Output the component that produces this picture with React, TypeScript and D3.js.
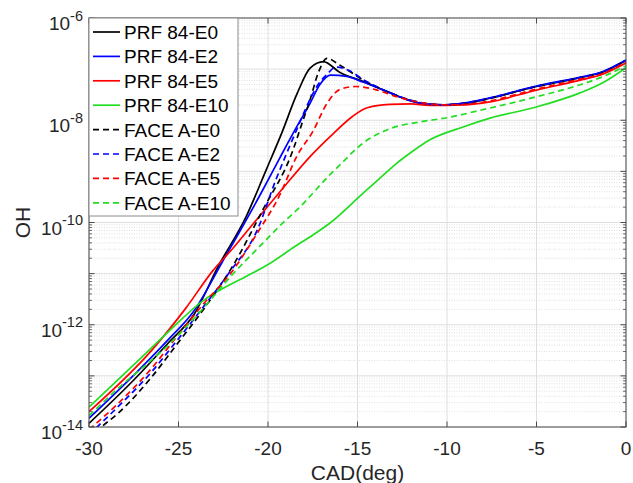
import React from "react";
import * as d3 from "d3";

type Pt = [number, number];

// x: CAD (deg), y: OH
const prfE0: Pt[] = [
  [-30, 1.18e-14], [-27.5, 8.3e-14], [-25.6, 4.3e-13], [-24.1, 1.66e-12], [-22.8, 1.35e-11],
  [-21.2, 1.35e-10], [-20.1, 1.07e-9], [-19.2, 6.0e-9], [-18.4, 3.16e-8], [-17.65, 1.05e-7],
  [-16.9, 1.4e-7], [-16.0, 8.7e-8], [-14.7, 5.75e-8], [-13.2, 3.47e-8], [-12.2, 2.51e-8],
  [-11.0, 2.04e-8], [-10.2, 2.0e-8], [-9.0, 2.14e-8], [-7.6, 2.69e-8], [-5.0, 4.57e-8],
  [-2.6, 6.76e-8], [-1.4, 8.5e-8], [0, 1.48e-7],
];
const prfE2: Pt[] = [
  [-30, 1.48e-14], [-27.4, 1.12e-13], [-25.6, 5.0e-13], [-24.1, 1.95e-12], [-22.6, 1.58e-11],
  [-20.3, 4.27e-10], [-19.3, 1.95e-9], [-18.4, 7.4e-9], [-17.65, 2.14e-8], [-17.1, 5.0e-8],
  [-16.5, 7.6e-8], [-15.6, 7.2e-8], [-14.7, 5.6e-8], [-13.2, 3.47e-8], [-12.2, 2.51e-8],
  [-11.0, 2.04e-8], [-10.2, 2.0e-8], [-9.0, 2.19e-8], [-7.6, 2.75e-8], [-5.0, 4.68e-8],
  [-2.6, 6.9e-8], [-1.4, 8.7e-8], [0, 1.51e-7],
];
const prfE5: Pt[] = [
  [-30, 2.0e-14], [-26.5, 3.16e-13], [-24.6, 2.09e-12], [-23.1, 1.12e-11], [-21.9, 3.31e-11],
  [-21.0, 8.0e-11], [-20.1, 1.9e-10], [-19.1, 5.0e-10], [-17.65, 1.95e-9], [-16.35, 5.5e-9],
  [-15.3, 1.17e-8], [-14.5, 1.74e-8], [-13.2, 2.04e-8], [-12.0, 2.09e-8], [-11.0, 1.95e-8],
  [-9.1, 2.0e-8], [-7.6, 2.29e-8], [-5.0, 3.89e-8], [-2.6, 6.03e-8], [-1.4, 7.76e-8], [0, 1.32e-7],
];
const prfE10: Pt[] = [
  [-30, 2.45e-14], [-27.4, 1.78e-13], [-25.6, 7.1e-13], [-23.6, 3.0e-12], [-22.4, 5.4e-12],
  [-21.2, 8.9e-12], [-19.9, 1.58e-11], [-18.5, 3.39e-11], [-17.3, 6.3e-11], [-16.5, 1.0e-10],
  [-14.7, 3.7e-10], [-13.7, 7.6e-10], [-12.8, 1.45e-9], [-11.9, 2.51e-9],
  [-11.0, 4.07e-9], [-9.1, 7.4e-9], [-7.6, 1.1e-8], [-5.0, 1.82e-8], [-2.6, 3.39e-8],
  [-1.3, 5.4e-8], [0, 1.07e-7],
];
const faceE0: Pt[] = [
  [-30, 5.6e-15], [-29.3, 1.0e-14], [-28.4, 1.82e-14], [-26.5, 9.5e-14], [-25.2, 3.7e-13],
  [-23.5, 2.24e-12], [-22.0, 1.35e-11], [-20.3, 1.74e-10], [-18.6, 2.63e-9], [-18.1, 8.7e-9],
  [-17.65, 2.51e-8], [-17.2, 8.3e-8], [-16.7, 1.62e-7], [-16.0, 1.2e-7], [-14.7, 6.2e-8],
  [-13.2, 3.47e-8], [-12.2, 2.57e-8], [-11.0, 2.09e-8], [-10.2, 2.0e-8], [-9.0, 2.14e-8],
  [-7.6, 2.69e-8], [-5.0, 4.57e-8], [-2.6, 6.76e-8], [-1.4, 8.5e-8], [0, 1.48e-7],
];
const faceE2: Pt[] = [
  [-30, 7.1e-15], [-28.4, 2.45e-14], [-26.5, 1.2e-13], [-25.2, 4.37e-13], [-23.5, 2.51e-12],
  [-22.1, 1.12e-11], [-20.6, 7.1e-11], [-19.6, 6.3e-10], [-18.4, 6.5e-9], [-17.85, 1.82e-8],
  [-17.2, 5.0e-8], [-16.7, 7.9e-8], [-16.2, 1.1e-7], [-15.5, 9.5e-8], [-14.7, 6.3e-8],
  [-13.2, 3.47e-8], [-12.2, 2.55e-8], [-11.0, 2.07e-8], [-10.2, 2.0e-8], [-9.0, 2.16e-8],
  [-7.6, 2.72e-8], [-5.0, 4.6e-8], [-2.6, 6.8e-8], [-1.4, 8.6e-8], [0, 1.5e-7],
];
const faceE5: Pt[] = [
  [-30, 8.9e-15], [-28.4, 2.82e-14], [-26.5, 1.41e-13], [-25.2, 5.25e-13], [-23.5, 2.82e-12],
  [-22.1, 1.0e-11], [-20.6, 6.2e-11], [-19.3, 3.7e-10], [-18.4, 1.95e-9], [-17.5, 6.0e-9],
  [-16.7, 2.14e-8], [-16.0, 3.98e-8], [-15.1, 4.57e-8], [-14.0, 3.98e-8], [-12.8, 2.88e-8],
  [-11.5, 2.24e-8], [-10.2, 2.0e-8], [-9.0, 2.04e-8], [-7.6, 2.4e-8], [-5.0, 4.07e-8],
  [-2.6, 6.3e-8], [-1.4, 7.9e-8], [0, 1.38e-7],
];
const faceE10: Pt[] = [
  [-30, 1.66e-14], [-28.4, 5.6e-14], [-25.7, 3.63e-13], [-23.7, 1.95e-12], [-22.1, 8.7e-12],
  [-20.3, 3.9e-11], [-19.0, 1.12e-10], [-18.4, 1.74e-10], [-16.5, 8.9e-10], [-16.0, 1.32e-9],
  [-14.7, 3.55e-9], [-13.2, 6.8e-9], [-11.5, 9.3e-9], [-10.0, 1.12e-8], [-8.2, 1.55e-8],
  [-5.0, 2.88e-8], [-2.6, 4.9e-8], [-1.3, 7.1e-8], [0, 1.17e-7],
];

const seriesNames = [
  "PRF 84-E0", "PRF 84-E2", "PRF 84-E5", "PRF 84-E10",
  "FACE A-E0", "FACE A-E2", "FACE A-E5", "FACE A-E10",
];
const seriesData = [prfE0, prfE2, prfE5, prfE10, faceE0, faceE2, faceE5, faceE10];
const seriesColors = ["#000000", "#0000ff", "#ff0000", "#22dd22", "#000000", "#0000ff", "#ff0000", "#22dd22"];
const seriesDashed = [false, false, false, false, true, true, true, true];

const xTicks = [-30, -25, -20, -15, -10, -5, 0];
const yExponents = [-14, -12, -10, -8, -6];

const W = 633, H = 483;
const M = { left: 89, right: 626, top: 18, bottom: 427 };
const FONT = "'Liberation Sans', Arial, Helvetica, sans-serif";

export default function App() {
  const x = d3.scaleLinear().domain([-30, 0]).range([M.left, M.right]);
  const y = d3.scaleLog().domain([1e-14, 1e-6]).range([M.bottom, M.top]);

  const line = d3
    .line<Pt>()
    .x((d) => x(d[0]))
    .y((d) => y(d[1]))
    .curve(d3.curveMonotoneX);

  const minorVals: number[] = [];
  for (let e = -14; e < -6; e++) {
    for (let k = 2; k <= 9; k++) minorVals.push(k * Math.pow(10, e));
  }
  const majorVals: number[] = [];
  for (let e = -14; e <= -6; e++) majorVals.push(Math.pow(10, e));

  const axisColor = "#4a4a4a";
  const textColor = "#262626";

  return (
    <svg
      width={W}
      height={H}
      style={{ position: "absolute", left: 0, top: 0, background: "#fff" }}
      fontFamily={FONT}
    >
      <defs>
        <clipPath id="plotclip">
          <rect x={M.left} y={M.top} width={M.right - M.left} height={M.bottom - M.top} />
        </clipPath>
      </defs>
      <rect x={0} y={0} width={W} height={H} fill="#fff" />

      {/* minor grid */}
      {minorVals.map((v, i) => (
        <line key={"mg" + i} x1={M.left} x2={M.right} y1={y(v)} y2={y(v)}
          stroke="#d8d8d8" strokeWidth={0.8} strokeDasharray="1,1.5" />
      ))}
      {/* major grid */}
      {majorVals.map((v, i) => (
        <line key={"yg" + i} x1={M.left} x2={M.right} y1={y(v)} y2={y(v)} stroke="#dedede" strokeWidth={1} />
      ))}
      {xTicks.map((t) => (
        <line key={"xg" + t} x1={x(t)} x2={x(t)} y1={M.top} y2={M.bottom} stroke="#dedede" strokeWidth={1} />
      ))}

      {/* data */}
      <g clipPath="url(#plotclip)">
        {seriesData.map((d, i) => (
          <path key={"s" + i} d={line(d) || ""} fill="none" stroke={seriesColors[i]}
            strokeWidth={1.7} strokeDasharray={seriesDashed[i] ? "6,4" : undefined} />
        ))}
      </g>

      {/* axes box */}
      <rect x={M.left} y={M.top} width={M.right - M.left} height={M.bottom - M.top}
        fill="none" stroke={axisColor} strokeWidth={1} />

      {/* x ticks */}
      {xTicks.map((t) => (
        <g key={"xt" + t}>
          <line x1={x(t)} x2={x(t)} y1={M.bottom} y2={M.bottom - 5.5} stroke={axisColor} />
          <line x1={x(t)} x2={x(t)} y1={M.top} y2={M.top + 5.5} stroke={axisColor} />
          <text x={x(t)} y={455} textAnchor="middle" fontSize={19} fill={textColor}>{t}</text>
        </g>
      ))}

      {/* y ticks */}
      {majorVals.map((v, i) => (
        <g key={"yt" + i}>
          <line x1={M.left} x2={M.left + 5.5} y1={y(v)} y2={y(v)} stroke={axisColor} />
          <line x1={M.right} x2={M.right - 5.5} y1={y(v)} y2={y(v)} stroke={axisColor} />
        </g>
      ))}
      {minorVals.map((v, i) => (
        <g key={"ymt" + i}>
          <line x1={M.left} x2={M.left + 3} y1={y(v)} y2={y(v)} stroke={axisColor} strokeWidth={0.8} />
          <line x1={M.right} x2={M.right - 3} y1={y(v)} y2={y(v)} stroke={axisColor} strokeWidth={0.8} />
        </g>
      ))}
      {yExponents.map((e) => {
        const yy = y(Math.pow(10, e));
        return (
          <text key={"yl" + e} x={83} y={yy + 12} textAnchor="end" fontSize={19} fill={textColor}>
            10<tspan dy={-9.5} fontSize={14.5}>{e}</tspan>
          </text>
        );
      })}

      {/* axis labels */}
      <text x={(M.left + M.right) / 2} y={480} textAnchor="middle" fontSize={21} fill={textColor}>CAD(deg)</text>
      <text transform={`translate(30, ${(M.top + M.bottom) / 2}) rotate(-90)`} textAnchor="middle"
        fontSize={21} fill={textColor}>OH</text>

      {/* legend */}
      <g>
        <rect x={M.left} y={M.top} width={149} height={198} fill="#fff" stroke="#8a8a8a" strokeWidth={1} />
        {seriesNames.map((n, i) => {
          const cy = 32 + i * 24.4;
          return (
            <g key={"lg" + i}>
              <line x1={93} x2={120} y1={cy} y2={cy} stroke={seriesColors[i]} strokeWidth={1.7}
                strokeDasharray={seriesDashed[i] ? "6,4" : undefined} />
              <text x={124} y={cy + 7} fontSize={19} fill="#000">{n}</text>
            </g>
          );
        })}
      </g>
    </svg>
  );
}
